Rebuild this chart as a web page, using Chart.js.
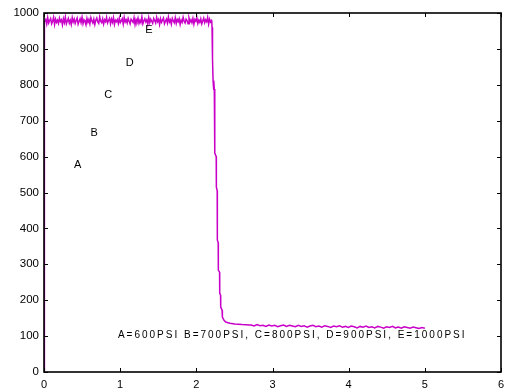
<!DOCTYPE html>
<html>
<head>
<meta charset="utf-8">
<script src="https://cdn.jsdelivr.net/npm/chart.js@4"></script>
<style>
  html, body { margin: 0; padding: 0; background: #fff; }
  #wrap { width: 505px; height: 392px; }
</style>
</head>
<body>
<div id="wrap"><canvas id="c"></canvas></div>
<script>
// rise at t = 0
const risePoints = [[0, 0], [0.002, 600], [0.004, 952]];

// noisy plateau, sampled evenly from bandStart to bandEnd
const bandStart = 0.01;
const bandEnd = 2.2;
const bandValues = [
    975, 982, 969, 987, 972, 979, 985, 970, 977, 988, 968, 983, 974, 980, 971, 986, 976, 981, 967, 984,
    973, 989, 970, 978, 985, 972, 980, 968, 987, 975, 983, 971, 979, 986, 969, 977, 984, 973, 988, 970,
    981, 976, 967, 985, 974, 982, 970, 987, 978, 972, 983, 968, 980, 986, 975, 971, 989, 977, 973, 984,
    969, 981, 976, 988, 972, 979, 985, 970, 983, 974, 987, 968, 980, 976, 982, 971, 986, 973, 978, 984,
    969, 988, 975, 981, 972, 985, 977, 970, 983, 979, 974, 987, 968, 982, 976, 986, 971, 980, 973, 989,
    970, 978, 984, 975, 981, 969, 987, 973, 983, 977, 971, 985, 979, 972, 988, 976, 982, 968, 984, 974,
    980, 986, 970, 977, 983, 972, 989, 975, 981, 969, 985, 978, 973, 987, 971, 982, 976, 984, 968, 980,
    974, 988, 977, 972, 983, 979, 970, 986, 975, 981, 973, 985, 969, 982, 977, 987, 971, 980, 974, 984,
    970, 978, 986, 973, 981, 976, 988, 969, 983, 975, 979,
];

// the pressure drop
const dropPoints = [
    [2.203, 976], [2.206, 960], [2.207, 877], [2.218, 872], [2.220, 810], [2.226, 786],
    [2.231, 812], [2.236, 788], [2.241, 760], [2.243, 610], [2.261, 600], [2.263, 515],
    [2.274, 505], [2.276, 368], [2.287, 360], [2.289, 284], [2.305, 278], [2.307, 220],
    [2.318, 214], [2.320, 181], [2.338, 172], [2.342, 153], [2.36, 145], [2.385, 139],
    [2.44, 136], [2.503, 134], [2.6, 132], [2.70, 131],
];

// low plateau, sampled evenly from tailStart to tailEnd
const tailStart = 2.72;
const tailEnd = 5.0;
const tailValues = [
    131, 128, 132, 129, 130, 127, 131, 128, 130, 126, 129, 131, 127, 130, 128, 126, 130, 127, 129, 125,
    128, 130, 126, 128, 125, 129, 127, 124, 128, 126, 129, 125, 127, 124, 128, 126, 123, 127, 125, 128,
    124, 126, 123, 127, 125, 122, 126, 124, 127, 123, 125, 122, 126, 124, 122, 125, 123, 121, 124, 122,
];

const xTicks = [0, 1, 2, 3, 4, 5, 6];
const yTicks = [0, 100, 200, 300, 400, 500, 600, 700, 800, 900, 1000];

// curve labels in data coordinates
const curveLabels = ['A', 'B', 'C', 'D', 'E'];
const curveLabelX = [0.442, 0.659, 0.843, 1.127, 1.376];
const curveLabelY = [577, 665, 772, 860, 953];

const noteText = 'A=600PSI B=700PSI, C=800PSI, D=900PSI, E=1000PSI';
const noteX = 0.97;
const noteY = 103;

function sampled(start, end, values) {
    const step = (end - start) / (values.length - 1);
    return values.map((v, i) => ({ x: start + i * step, y: v }));
}

const points = [
    ...risePoints.map(([x, y]) => ({ x, y })),
    ...sampled(bandStart, bandEnd, bandValues),
    ...dropPoints.map(([x, y]) => ({ x, y })),
    ...sampled(tailStart, tailEnd, tailValues),
];

const FONT = '"Liberation Sans", Arial, sans-serif';

// frame with inward ticks on all four sides, plus text labels
const framePlugin = {
    id: 'frame',
    afterDraw(chart) {
        const { ctx, chartArea: a, scales } = chart;
        const len = 4;
        ctx.save();
        ctx.strokeStyle = '#000';
        ctx.lineWidth = 1;
        ctx.beginPath();
        xTicks.forEach((v) => {
            const px = Math.round(scales.x.getPixelForValue(v)) + 0.5;
            ctx.moveTo(px, a.bottom); ctx.lineTo(px, a.bottom - len);
            ctx.moveTo(px, a.top); ctx.lineTo(px, a.top + len);
        });
        yTicks.forEach((v) => {
            const py = Math.round(scales.y.getPixelForValue(v)) + 0.5;
            ctx.moveTo(a.left, py); ctx.lineTo(a.left + len, py);
            ctx.moveTo(a.right, py); ctx.lineTo(a.right - len, py);
        });
        ctx.stroke();
        ctx.lineWidth = 1.6;
        ctx.strokeRect(a.left, a.top, a.right - a.left, a.bottom - a.top);

        ctx.fillStyle = '#000';
        ctx.font = '11px ' + FONT;
        ctx.textAlign = 'center';
        ctx.textBaseline = 'middle';
        curveLabels.forEach((t, i) => {
            ctx.fillText(t, scales.x.getPixelForValue(curveLabelX[i]), scales.y.getPixelForValue(curveLabelY[i]));
        });

        ctx.font = '10px ' + FONT;
        ctx.letterSpacing = '2px';
        ctx.textAlign = 'left';
        ctx.fillText(noteText, scales.x.getPixelForValue(noteX), scales.y.getPixelForValue(noteY));
        ctx.restore();
    },
};

new Chart(document.getElementById('c'), {
    type: 'line',
    data: {
        datasets: [{
            data: points,
            borderColor: '#c800c8',
            borderWidth: 1.5,
            pointRadius: 0,
            tension: 0,
            fill: false,
        }],
    },
    options: {
        responsive: true,
        maintainAspectRatio: false,
        animation: false,
        layout: { padding: { top: 13, right: 4, left: 0, bottom: 0 } },
        plugins: {
            legend: { display: false },
            tooltip: { enabled: false },
        },
        scales: {
            x: {
                type: 'linear',
                min: 0,
                max: 6,
                afterBuildTicks: (s) => { s.ticks = xTicks.map((v) => ({ value: v })); },
                afterFit: (s) => { s.height = 20; s.paddingLeft = 0; s.paddingRight = 0; },
                grid: { display: false, drawTicks: false },
                border: { display: false },
                ticks: { color: '#000', padding: 6, font: { family: FONT, size: 11 }, callback: (v) => String(v) },
            },
            y: {
                min: 0,
                max: 1000,
                afterBuildTicks: (s) => { s.ticks = yTicks.map((v) => ({ value: v })); },
                afterFit: (s) => { s.width = 44; s.paddingTop = 0; s.paddingBottom = 0; },
                grid: { display: false, drawTicks: false },
                border: { display: false },
                ticks: { color: '#000', padding: 5, font: { family: FONT, size: 11.5 }, callback: (v) => String(v) },
            },
        },
    },
    plugins: [framePlugin],
});
</script>
</body>
</html>
